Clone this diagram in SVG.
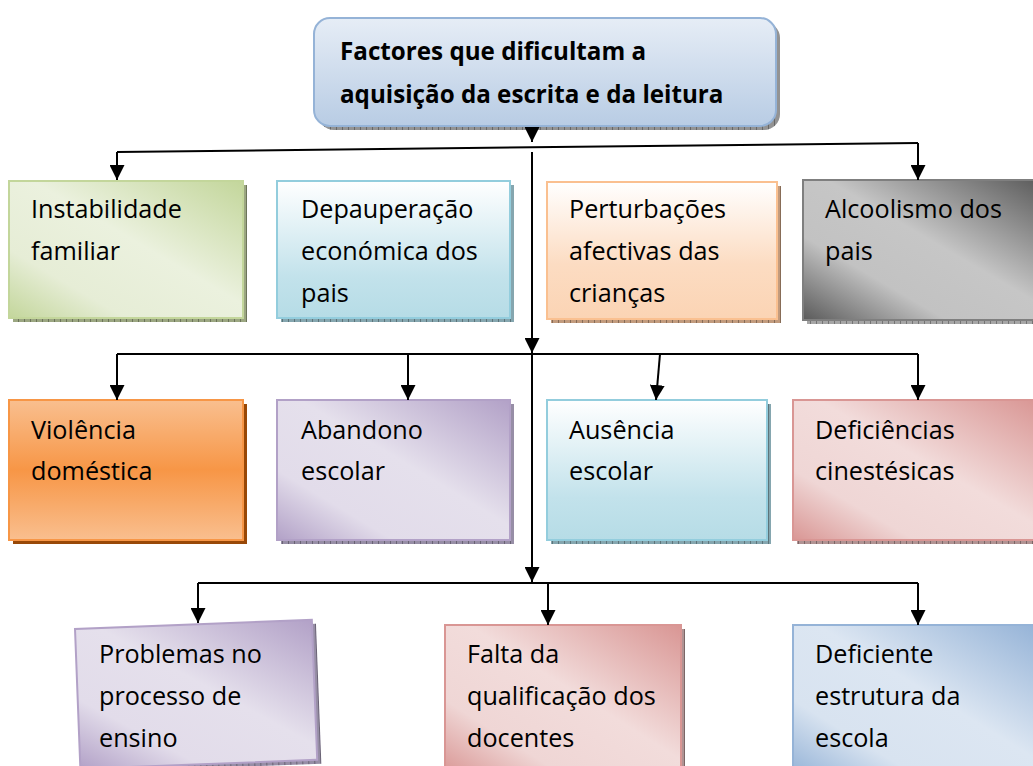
<svg xmlns="http://www.w3.org/2000/svg" width="1033" height="766" viewBox="0 0 1033 766">
<style>
.t{font-family:"Open Sans","Liberation Sans",sans-serif;font-size:25.2px;fill:#000}
.tb{font-family:"Open Sans","Liberation Sans",sans-serif;font-size:24.2px;font-weight:bold;fill:#000}
.c{fill:none;stroke:#000;stroke-width:2}
.ca{fill:none;stroke:#000;stroke-width:2;marker-end:url(#ah)}
.hat{fill:url(#hatch)}
</style>
<defs>
<marker id="ah" markerUnits="userSpaceOnUse" viewBox="0 0 15 15" refX="15" refY="7.5" markerWidth="15" markerHeight="15" orient="auto">
<path d="M0,0 L15,7.5 L0,15 z" fill="#000"/>
</marker>
<pattern id="hatch" width="6" height="5" patternUnits="userSpaceOnUse">
<rect width="6" height="5" fill="#000" opacity="0.08"/>
<rect width="1" height="5" fill="#000" opacity="0.3"/>
</pattern>
<linearGradient id="gTop" x1="0" y1="0" x2="0" y2="1">
<stop offset="0" stop-color="#e6edf6"/><stop offset="1" stop-color="#b8cce4"/>
</linearGradient>
<linearGradient id="gGreen" x1="1" y1="0" x2="0" y2="1">
<stop offset="0" stop-color="#c3d69b"/><stop offset="0.45" stop-color="#ebf1de"/><stop offset="0.75" stop-color="#e6edd6"/><stop offset="1" stop-color="#c3d69b"/>
</linearGradient>
<linearGradient id="gAqua" x1="0" y1="0" x2="0" y2="1">
<stop offset="0" stop-color="#ffffff"/><stop offset="0.7" stop-color="#c2e2eb"/><stop offset="1" stop-color="#b6dce6"/>
</linearGradient>
<linearGradient id="gPeach" x1="0" y1="0" x2="0" y2="1">
<stop offset="0" stop-color="#ffffff"/><stop offset="0.6" stop-color="#fcdcc2"/><stop offset="1" stop-color="#fbd4b4"/>
</linearGradient>
<linearGradient id="gGray" x1="1" y1="0" x2="0" y2="1">
<stop offset="0" stop-color="#5a5a5a"/><stop offset="0.45" stop-color="#c6c6c6"/><stop offset="0.7" stop-color="#c2c2c2"/><stop offset="1" stop-color="#5a5a5a"/>
</linearGradient>
<linearGradient id="gOrange" x1="0" y1="0" x2="0" y2="1">
<stop offset="0" stop-color="#f9bf8f"/><stop offset="0.5" stop-color="#f79646"/><stop offset="1" stop-color="#f9bf8f"/>
</linearGradient>
<linearGradient id="gPurple" x1="1" y1="0" x2="0" y2="1">
<stop offset="0" stop-color="#b2a1c7"/><stop offset="0.45" stop-color="#e5e0ec"/><stop offset="0.75" stop-color="#e2dcea"/><stop offset="1" stop-color="#b2a1c7"/>
</linearGradient>
<linearGradient id="gPink" x1="1" y1="0" x2="0" y2="1">
<stop offset="0" stop-color="#d99694"/><stop offset="0.45" stop-color="#f2dcdb"/><stop offset="0.75" stop-color="#efd6d5"/><stop offset="1" stop-color="#d99694"/>
</linearGradient>
<linearGradient id="gBlue" x1="1" y1="0" x2="0" y2="1">
<stop offset="0" stop-color="#95b3d7"/><stop offset="0.45" stop-color="#dce6f2"/><stop offset="0.75" stop-color="#d8e3f0"/><stop offset="1" stop-color="#95b3d7"/>
</linearGradient>
</defs>
<rect width="1033" height="766" fill="#fff"/>

<g id="node-title">
<rect x="318" y="22" width="462" height="108" rx="16" fill="#a0a0a0"/>
<rect x="318" y="22" width="462" height="108" rx="16" class="hat"/>
<rect x="314" y="18" width="462" height="108" rx="16" fill="url(#gTop)" stroke="#95b3d7" stroke-width="2"/>
<text class="tb" x="340" y="60">Factores que dificultam a</text>
<text class="tb" x="340" y="103">aquisição da escrita e da leitura</text>
</g>

<g id="node-instabilidade">
<rect x="13" y="185" width="234" height="137" fill="#a8b48c"/>
<rect x="13" y="185" width="234" height="137" class="hat"/>
<rect x="9" y="181" width="234" height="137" fill="url(#gGreen)" stroke="#c3d69b" stroke-width="2"/>
<text class="t" x="31" y="218">Instabilidade</text>
<text class="t" x="31" y="260">familiar</text>
</g>

<g id="node-depauperacao">
<rect x="281" y="185" width="233" height="137" fill="#90b4be"/>
<rect x="281" y="185" width="233" height="137" class="hat"/>
<rect x="277" y="181" width="233" height="137" fill="url(#gAqua)" stroke="#93cddd" stroke-width="2"/>
<text class="t" x="301" y="218">Depauperação</text>
<text class="t" x="301" y="260">económica dos</text>
<text class="t" x="301" y="302">pais</text>
</g>

<g id="node-perturbacoes">
<rect x="551" y="186" width="230" height="137" fill="#d2a888"/>
<rect x="551" y="186" width="230" height="137" class="hat"/>
<rect x="547" y="182" width="230" height="137" fill="url(#gPeach)" stroke="#fac090" stroke-width="2"/>
<text class="t" x="569" y="218">Perturbações</text>
<text class="t" x="569" y="260">afectivas das</text>
<text class="t" x="569" y="302">crianças</text>
</g>

<g id="node-alcoolismo">
<rect x="807" y="184" width="240" height="140" fill="#b4b4b4"/>
<rect x="807" y="184" width="240" height="140" class="hat"/>
<rect x="803" y="180" width="240" height="140" fill="url(#gGray)" stroke="#7f7f7f" stroke-width="2"/>
<text class="t" x="825" y="218">Alcoolismo dos</text>
<text class="t" x="825" y="260">pais</text>
</g>

<g id="node-violencia">
<rect x="13" y="404" width="234" height="140" fill="#984807"/>
<rect x="9" y="400" width="234" height="140" fill="url(#gOrange)" stroke="#f79646" stroke-width="2"/>
<text class="t" x="31" y="439">Violência</text>
<text class="t" x="31" y="480">doméstica</text>
</g>

<g id="node-abandono">
<rect x="281" y="404" width="233" height="140" fill="#a49ab4"/>
<rect x="281" y="404" width="233" height="140" class="hat"/>
<rect x="277" y="400" width="233" height="140" fill="url(#gPurple)" stroke="#b2a1c7" stroke-width="2"/>
<text class="t" x="301" y="439">Abandono</text>
<text class="t" x="301" y="480">escolar</text>
</g>

<g id="node-ausencia">
<rect x="551" y="404" width="220" height="140" fill="#90b4be"/>
<rect x="551" y="404" width="220" height="140" class="hat"/>
<rect x="547" y="400" width="220" height="140" fill="url(#gAqua)" stroke="#93cddd" stroke-width="2"/>
<text class="t" x="569" y="439">Ausência</text>
<text class="t" x="569" y="480">escolar</text>
</g>

<g id="node-deficiencias">
<rect x="797" y="404" width="245" height="140" fill="#c0a0a0"/>
<rect x="797" y="404" width="245" height="140" class="hat"/>
<rect x="793" y="400" width="245" height="140" fill="url(#gPink)" stroke="#d99694" stroke-width="2"/>
<text class="t" x="815" y="439">Deficiências</text>
<text class="t" x="815" y="480">cinestésicas</text>
</g>

<g id="node-problemas">
<g transform="translate(75,629) rotate(-2.2)">
<rect x="4" y="4" width="237" height="140" fill="#a49ab4"/>
<rect x="4" y="4" width="237" height="140" class="hat"/>
<rect x="0" y="0" width="237" height="140" fill="url(#gPurple)" stroke="#b2a1c7" stroke-width="2"/>
</g>
<text class="t" x="99" y="663">Problemas no</text>
<text class="t" x="99" y="705">processo de</text>
<text class="t" x="99" y="747">ensino</text>
</g>

<g id="node-falta">
<rect x="449" y="629" width="236" height="150" fill="#c0a0a0"/>
<rect x="449" y="629" width="236" height="150" class="hat"/>
<rect x="445" y="625" width="236" height="150" fill="url(#gPink)" stroke="#d99694" stroke-width="2"/>
<text class="t" x="467" y="663">Falta da</text>
<text class="t" x="467" y="705">qualificação dos</text>
<text class="t" x="467" y="747">docentes</text>
</g>

<g id="node-deficiente">
<rect x="797" y="629" width="245" height="150" fill="#a0aabe"/>
<rect x="797" y="629" width="245" height="150" class="hat"/>
<rect x="793" y="625" width="245" height="150" fill="url(#gBlue)" stroke="#95b3d7" stroke-width="2"/>
<text class="t" x="815" y="663">Deficiente</text>
<text class="t" x="815" y="705">estrutura da</text>
<text class="t" x="815" y="747">escola</text>
</g>

<g id="connectors">
<path class="ca" d="M532,127 L532,142"/>
<path class="c" d="M117,152 L918,143"/>
<path class="ca" d="M117,152 L117,180"/>
<path class="ca" d="M918,143 L918,180"/>
<path class="ca" d="M532,152 L532,353"/>
<path class="c" d="M117,354 L918,354"/>
<path class="ca" d="M117,354 L117,400"/>
<path class="ca" d="M408,354 L408,400"/>
<path class="ca" d="M660,354 L656,400"/>
<path class="ca" d="M918,354 L918,400"/>
<path class="ca" d="M532,354 L532,582"/>
<path class="c" d="M198,583 L918,583"/>
<path class="ca" d="M198,583 L198,623"/>
<path class="ca" d="M548,583 L548,625"/>
<path class="ca" d="M918,583 L918,625"/>
</g>
</svg>
